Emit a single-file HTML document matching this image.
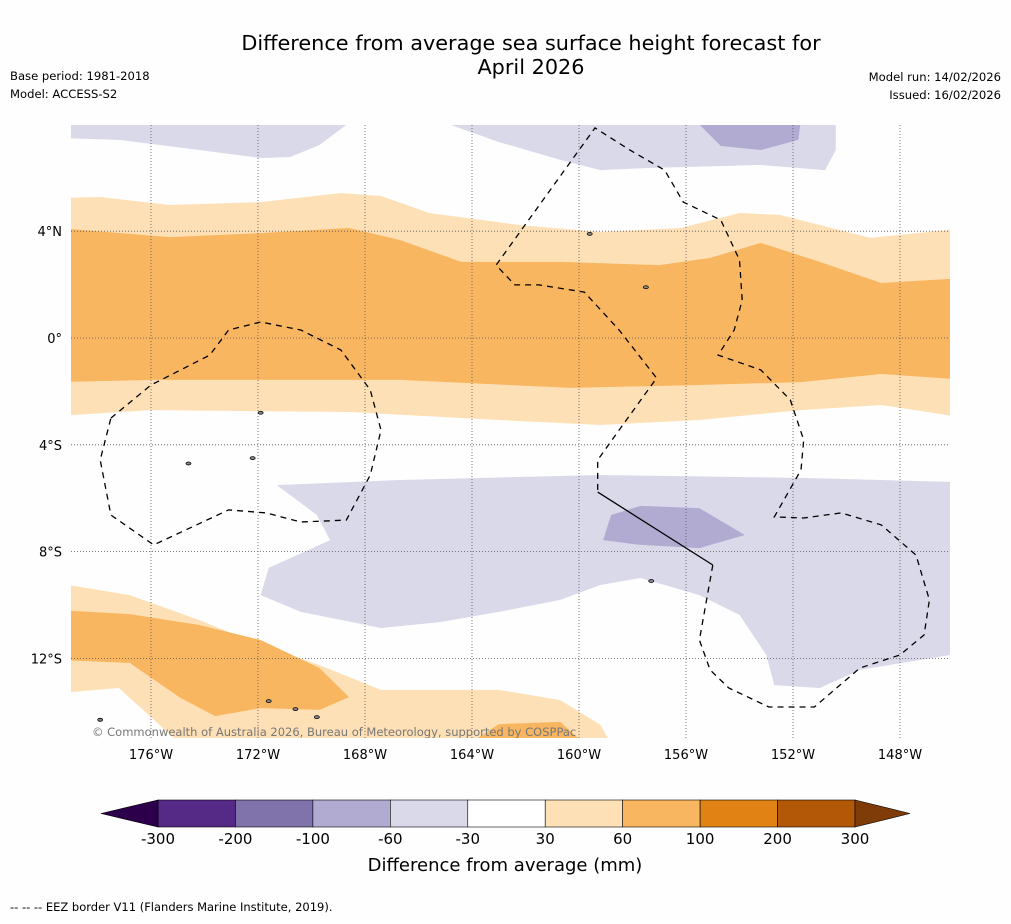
<!DOCTYPE html>
<html><head><meta charset="utf-8"><style>
html,body{margin:0;padding:0;background:#fff;}
body{width:1011px;height:919px;overflow:hidden;font-family:"Liberation Sans","DejaVu Sans",sans-serif;}
svg text{font-family:"DejaVu Sans","Liberation Sans",sans-serif;}
</style></head><body>
<svg id="c" width="1011" height="919" xmlns="http://www.w3.org/2000/svg">
<rect width="1011" height="919" fill="#fefefe"/>
<text x="531" y="50" font-size="20.8" text-anchor="middle">Difference from average sea surface height forecast for</text>
<text x="531" y="74" font-size="20.8" text-anchor="middle">April 2026</text>
<text x="10" y="80" font-size="11.6">Base period: 1981-2018</text>
<text x="10" y="98" font-size="11.6">Model: ACCESS-S2</text>
<text x="1001" y="81" font-size="11.6" text-anchor="end">Model run: 14/02/2026</text>
<text x="1001" y="99" font-size="11.6" text-anchor="end">Issued: 16/02/2026</text>
<defs><clipPath id="mc"><rect x="71" y="125" width="879" height="613"/></clipPath></defs>
<g id="map" clip-path="url(#mc)"></g>
<g id="axes"></g>
<g id="cbar"></g>
<text x="505" y="871" font-size="18" text-anchor="middle">Difference from average (mm)</text>
<text x="10" y="911" font-size="11.5">--  --  -- EEZ border V11 (Flanders Marine Institute, 2019).</text>
</svg>
<script>
const lonTicks=[-176,-172,-168,-164,-160,-156,-152,-148];
const latTicks=[4,0,-4,-8,-12];
const latLabels=["4°N","0°","4°S","8°S","12°S"];
const cbLevels=[-300,-200,-100,-60,-30,30,60,100,200,300];
const cbColors=["#552a87","#8073ac","#b1abd2","#d9d9ea","#ffffff","#fee0b6","#f9b660","#e08214","#b35806"];
const purple1=[[-171.3,-5.51],[-166.7,-5.32],[-159.2,-5.13],[-151.7,-5.24],[-146.1,-5.39],[-146.1,-11.87],[-149.5,-12.43],[-151.0,-13.11],[-152.7,-13.0],[-153.0,-11.87],[-154.0,-10.37],[-155.5,-9.63],[-157.7,-8.99],[-159.2,-9.25],[-160.7,-9.81],[-163.0,-10.26],[-165.2,-10.64],[-167.4,-10.86],[-170.4,-10.26],[-171.9,-9.63],[-171.6,-8.61],[-169.3,-7.57],[-169.8,-6.63],[-170.8,-5.88]];
const purple2=[[-159.1,-7.57],[-158.8,-6.63],[-157.7,-6.29],[-155.5,-6.37],[-153.8,-7.38],[-155.5,-7.87],[-157.7,-7.75]];
const purpleTL=[[-179.5,8.2],[-168.7,8.2],[-168.7,7.98],[-169.7,7.23],[-170.8,6.78],[-171.9,6.74],[-174.2,7.04],[-177.2,7.42],[-179.5,7.49]];
const purpleTR=[[-164.8,8.2],[-150.4,8.2],[-150.4,7.04],[-150.8,6.29],[-153.2,6.48],[-157.3,6.37],[-159.2,6.29],[-160.7,6.67],[-163.0,7.34],[-164.8,7.98]];
const purpleTR2=[[-155.7,8.2],[-151.7,8.2],[-151.8,7.42],[-153.2,7.04],[-154.7,7.19]];
const lightOrangeBand=[[-179.5,5.24],[-177.9,5.28],[-175.3,4.98],[-171.9,5.09],[-168.9,5.43],[-167.4,5.32],[-165.6,4.68],[-162.2,4.23],[-159.2,3.97],[-156.2,4.12],[-154.0,4.68],[-152.5,4.61],[-149.1,3.75],[-145.5,4.12],[-145.5,-3.0],[-148.7,-2.51],[-151.7,-2.70],[-155.5,-3.07],[-159.2,-3.26],[-163.0,-3.07],[-168.6,-2.77],[-176.0,-2.70],[-179.5,-2.92]];
const orangeBand=[[-179.5,4.12],[-175.3,3.78],[-171.9,3.93],[-168.6,4.12],[-166.7,3.67],[-164.4,2.85],[-160.7,2.85],[-157.0,2.73],[-155.1,3.0],[-153.2,3.56],[-151.0,2.85],[-148.7,2.06],[-145.5,2.25],[-145.5,-1.57],[-148.7,-1.35],[-151.7,-1.65],[-155.5,-1.76],[-160.3,-1.87],[-166.7,-1.57],[-176.0,-1.57],[-179.5,-1.65]];
const lightOrangeSW=[[-179.5,-9.18],[-176.8,-9.63],[-174.2,-10.56],[-171.9,-11.5],[-169.7,-12.25],[-167.4,-13.18],[-163.0,-13.18],[-160.7,-13.56],[-159.2,-14.49],[-158.8,-15.2],[-174.9,-15.2],[-177.2,-13.11],[-179.5,-13.3]];
const orangeSW=[[-179.5,-10.19],[-176.8,-10.34],[-174.2,-10.75],[-171.9,-11.31],[-169.7,-12.36],[-168.6,-13.45],[-169.7,-13.93],[-171.9,-13.86],[-173.6,-14.16],[-174.9,-13.48],[-176.8,-12.17],[-179.5,-12.06]];
const orangeS=[[-164.1,-15.2],[-163.0,-14.46],[-160.7,-14.38],[-159.8,-15.2]];
const eezLeft=[[-177.5,-3.0],[-176.0,-1.76],[-173.8,-0.64],[-173.1,0.3],[-171.9,0.6],[-170.4,0.3],[-168.9,-0.45],[-167.8,-1.95],[-167.4,-3.45],[-167.8,-5.13],[-168.7,-6.82],[-170.4,-6.89],[-171.7,-6.55],[-173.1,-6.44],[-175.9,-7.75],[-177.5,-6.63],[-177.9,-4.57],[-177.5,-3.0]];
const eezRight=[[-155.0,-8.5],[-155.5,-11.31],[-155.1,-12.43],[-154.4,-13.11],[-152.9,-13.82],[-151.2,-13.82],[-149.5,-12.36],[-148.0,-11.87],[-147.1,-11.12],[-146.9,-9.81],[-147.4,-8.13],[-148.7,-7.0],[-150.2,-6.55],[-151.6,-6.74],[-152.7,-6.7],[-151.7,-4.94],[-151.6,-3.82],[-152.1,-2.32],[-153.2,-1.2],[-154.8,-0.64],[-154.2,0.3],[-153.9,1.42],[-154.0,2.92],[-154.7,4.42],[-156.1,5.09],[-156.8,6.29],[-158.1,7.04],[-159.4,7.87],[-163.1,2.73],[-162.4,1.99],[-161.5,1.99],[-159.8,1.72],[-158.5,0.3],[-157.1,-1.5],[-158.5,-3.45],[-159.3,-4.57],[-159.3,-5.77]];
const eezSolid=[[-159.3,-5.77],[-155.0,-8.5]];
const islands=[[-171.6,-13.6],[-170.6,-13.9],[-169.8,-14.2],[-177.9,-14.3],[-157.5,1.9],[-159.6,3.9],[-174.6,-4.7],[-172.2,-4.5],[-171.9,-2.8],[-157.3,-9.1]];

const NS="http://www.w3.org/2000/svg";
const X=lon=>151+(lon+176)*26.75;
const Y=lat=>338-lat*26.7;
const map=document.getElementById('map'), axes=document.getElementById('axes'), cb=document.getElementById('cbar');
function pts(a){return a.map(p=>X(p[0]).toFixed(1)+','+Y(p[1]).toFixed(1)).join(' ');}
function poly(a,fill,name){const e=document.createElementNS(NS,'polygon');e.setAttribute('points',pts(a));e.setAttribute('fill',fill);


map.appendChild(e);}
poly(lightOrangeBand,'#fee0b6','contour-30-60-band');
poly(orangeBand,'#f9b660','contour-60-100-band');
poly(purpleTL,'#d9d9ea','contour-neg30-north-west');
poly(purpleTR,'#d9d9ea','contour-neg30-north-east');
poly(purpleTR2,'#b1abd2','contour-neg60-north-east');
poly(purple1,'#d9d9ea','contour-neg30-south');
poly(purple2,'#b1abd2','contour-neg60-south');
poly(lightOrangeSW,'#fee0b6','contour-30-60-south-west');
poly(orangeSW,'#f9b660','contour-60-100-south-west');
poly(orangeS,'#f9b660','contour-60-100-south');
lonTicks.forEach(l=>{const e=document.createElementNS(NS,'line');e.setAttribute('x1',X(l));e.setAttribute('x2',X(l));e.setAttribute('y1',125);e.setAttribute('y2',738);e.setAttribute('stroke','#555');e.setAttribute('stroke-width','0.8');e.setAttribute('stroke-dasharray','1,2');


map.appendChild(e);
const t=document.createElementNS(NS,'text');t.setAttribute('x',X(l));t.setAttribute('y',759);t.setAttribute('font-size','13');t.setAttribute('text-anchor','middle');t.textContent=Math.abs(l)+'°W';


axes.appendChild(t);});
latTicks.forEach((l,i)=>{const e=document.createElementNS(NS,'line');e.setAttribute('x1',71);e.setAttribute('x2',950);e.setAttribute('y1',Y(l));e.setAttribute('y2',Y(l));e.setAttribute('stroke','#555');e.setAttribute('stroke-width','0.8');e.setAttribute('stroke-dasharray','1,2');


map.appendChild(e);
const t=document.createElementNS(NS,'text');t.setAttribute('x',62);t.setAttribute('y',Y(l)+5);t.setAttribute('font-size','13');t.setAttribute('text-anchor','end');t.textContent=latLabels[i];


axes.appendChild(t);});
function line(a,dash,name){const e=document.createElementNS(NS,'polyline');e.setAttribute('points',pts(a));e.setAttribute('fill','none');e.setAttribute('stroke','#000');e.setAttribute('stroke-width','1.3');if(dash)e.setAttribute('stroke-dasharray','6,5');


map.appendChild(e);}
line(eezLeft,true,'eez-border-west');
line(eezRight,true,'eez-border-east');
line(eezSolid,false,'eez-border-solid');
islands.forEach(p=>{const e=document.createElementNS(NS,'ellipse');e.setAttribute('cx',X(p[0]));e.setAttribute('cy',Y(p[1]));e.setAttribute('rx',2.5);e.setAttribute('ry',1.5);e.setAttribute('fill','#888');e.setAttribute('stroke','#000');e.setAttribute('stroke-width','0.8');


map.appendChild(e);});
const cr=document.createElementNS(NS,'text');cr.setAttribute('x',92);cr.setAttribute('y',736);cr.setAttribute('font-size','11.5');cr.setAttribute('fill','#777');cr.textContent='© Commonwealth of Australia 2026, Bureau of Meteorology, supported by COSPPac';


map.appendChild(cr);
const cx0=158,cw=(855-158)/cbColors.length,cy=800,ch=27;
cbColors.forEach((c,i)=>{const r=document.createElementNS(NS,'rect');r.setAttribute('x',cx0+i*cw);r.setAttribute('y',cy);r.setAttribute('width',cw);r.setAttribute('height',ch);r.setAttribute('fill',c);r.setAttribute('stroke','#000');r.setAttribute('stroke-width','0.6');


cb.appendChild(r);});
[[ '#2d004b',`${cx0},${cy} ${cx0},${cy+ch} 101,${cy+ch/2}`],['#7f3b08',`855,${cy} 855,${cy+ch} 910,${cy+ch/2}`]].forEach((t,i)=>{const p=document.createElementNS(NS,'polygon');p.setAttribute('points',t[1]);p.setAttribute('fill',t[0]);p.setAttribute('stroke','#000');p.setAttribute('stroke-width','0.6');


cb.appendChild(p);});
cbLevels.forEach((v,i)=>{const t=document.createElementNS(NS,'text');t.setAttribute('x',cx0+i*cw);t.setAttribute('y',844);t.setAttribute('font-size','15');t.setAttribute('text-anchor','middle');t.textContent=v;


cb.appendChild(t);});
</script>
</body></html>
